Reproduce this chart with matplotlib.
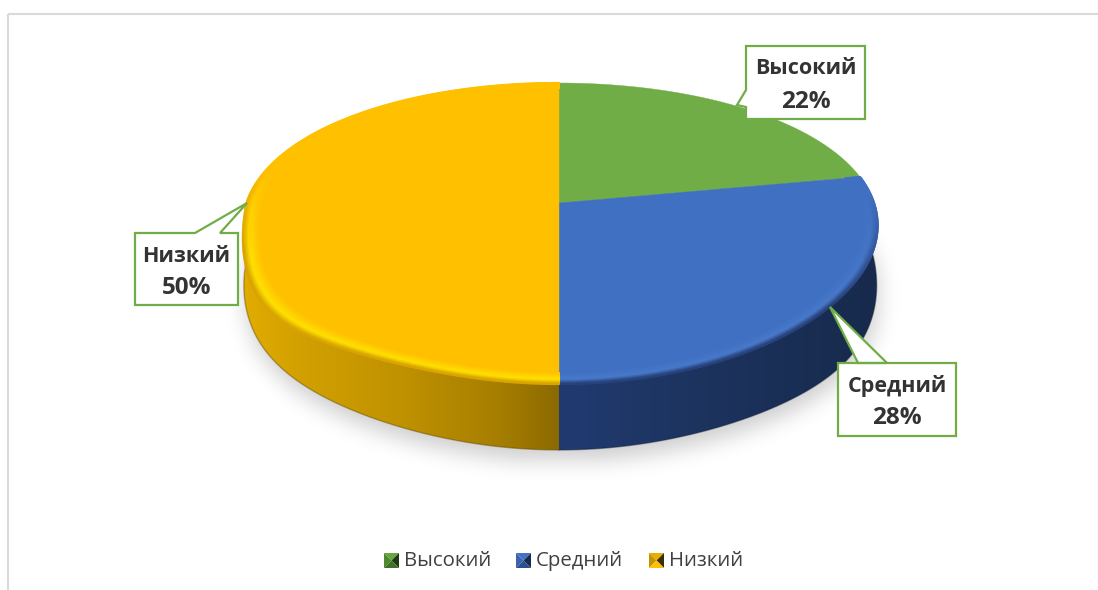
#!/usr/bin/env python3
"""Perspective 3D-style pie of level shares with callout labels."""

import numpy as np
import matplotlib
matplotlib.use("Agg")
import matplotlib.pyplot as plt
from matplotlib.collections import LineCollection
from matplotlib.colors import to_rgb
from matplotlib.patches import Polygon
from matplotlib.path import Path

plt.rcParams['font.family'] = ['Open Sans', 'Noto Sans', 'DejaVu Sans']

categories = ["Высокий", "Средний", "Низкий"]
values = [22, 28, 50]
top_colors = ["#70AD47", "#4070C2", "#FFC000"]

W, H = 1098, 590

# projection of the unit disc onto the page
CX, CY = 559, 203
RX_LEFT, RX_RIGHT, RY = 312.5, 315, 144.3
PERSP_X, PERSP_Y = 0.15, 0.2027
DEPTH = 52.6
SHRINK = 0.997
BULGE_TOP = 85
BULGE_BASE = 40


def project(theta, r=1.0):
    u, v = r * np.sin(theta), r * np.cos(theta)
    x = CX + np.where(u < 0, RX_LEFT, RX_RIGHT) * u / (1 + PERSP_X * v)
    y = CY - RY * v / (1 + PERSP_Y * v)
    # the bevel sags a little on the lower left of the rim
    y = y + BULGE_TOP * u ** 4 * np.clip(-v, 0, None) * (u < 0)
    return x, y


def project_base(theta):
    u, v = np.sin(theta), np.cos(theta)
    x = CX + np.where(u < 0, RX_LEFT, RX_RIGHT) * u / (1 + PERSP_X * v)
    y = CY - RY * v / (1 + PERSP_Y * v)
    y = y + DEPTH / (1 + PERSP_Y * v) + BULGE_BASE * u ** 4 * np.clip(-v, 0, None)
    return CX + (x - CX) * SHRINK, y


def blur(img, sigma):
    n = int(sigma * 3)
    k = np.exp(-0.5 * (np.arange(-n, n + 1) / sigma) ** 2)
    k /= k.sum()
    img = np.apply_along_axis(lambda c: np.convolve(c, k, mode='same'), 0, img)
    return np.apply_along_axis(lambda c: np.convolve(c, k, mode='same'), 1, img)


def mix(a, b, t):
    a, b = np.array(to_rgb(a)), np.array(to_rgb(b))
    return a + (b - a) * t


fig = plt.figure(figsize=(W / 100, H / 100), dpi=100, facecolor="white")
ax = fig.add_axes([0, 0, 1, 1])
ax.set_xlim(0, W)
ax.set_ylim(H, 0)
ax.axis("off")

# chart frame, only top and left edges are on the page
ax.plot([8, W], [14, 14], color="#D9D9D9", lw=1.5, zorder=1, solid_capstyle="butt")
ax.plot([8, 8], [14, H], color="#D9D9D9", lw=1.5, zorder=1, solid_capstyle="butt")

# soft shadow under the disc
full = np.linspace(0, 2 * np.pi, 400)
bx, by = project_base(full)
sil = Path(np.column_stack([bx + 1, by + 10]))
gx, gy = np.meshgrid(np.arange(0, W, 2), np.arange(0, H, 2))
mask = sil.contains_points(np.column_stack([gx.ravel(), gy.ravel()])).reshape(gx.shape)
soft = blur(mask.astype(float), 5.5)
shadow = np.zeros(gx.shape + (4,))
shadow[..., 3] = soft * 0.2
ax.imshow(shadow, extent=(0, W, H, 0), zorder=2, aspect="auto", interpolation="bilinear")
ax.set_xlim(0, W)
ax.set_ylim(H, 0)

# slice angles, clockwise from twelve o'clock
edges = np.concatenate([[0], np.cumsum(values)]) / np.sum(values) * 2 * np.pi

# side wall gradients by slice
wall_stops = {
    1: ([559, 650, 880], ["#213B72", "#1E3664", "#172A4C"]),
    2: ([240, 300, 400, 500, 559], ["#E2AC00", "#D2A000", "#C09200", "#A67E00", "#8C6A00"]),
}
for i, (xs, cols) in wall_stops.items():
    theta = np.linspace(edges[i], edges[i + 1], 300)
    tx, ty = project(theta)
    fx, fy = project_base(theta)
    poly = Polygon(np.column_stack([np.r_[tx, fx[::-1]], np.r_[ty, fy[::-1]]]),
                   closed=True, fc="none", ec="none", transform=ax.transData)
    ax.add_patch(poly)
    grid = np.linspace(xs[0], xs[-1], 256)
    rgb = np.stack([np.interp(grid, xs, [to_rgb(c)[ch] for c in cols]) for ch in range(3)], axis=-1)
    im = ax.imshow(rgb[None, ...], extent=(xs[0], xs[-1], 470, 150), zorder=3,
                   aspect="auto", interpolation="bilinear")
    im.set_clip_path(poly)
    # darker line where the wall meets the shadow
    ax.plot(fx, fy, color=mix(cols[-1], "#000000", 0.3), lw=1.0, alpha=0.45, zorder=3.2)
ax.set_xlim(0, W)
ax.set_ylim(H, 0)

# top faces with a bevel along the near rim
for i, col in enumerate(top_colors):
    theta = np.linspace(edges[i], edges[i + 1], 300)
    tx, ty = project(theta)
    face = Polygon(np.column_stack([np.r_[CX, tx], np.r_[CY, ty]]), closed=True,
                   fc=col, ec=col, lw=0.3, zorder=4)
    ax.add_patch(face)

    if i == 0:
        continue
    for r in np.linspace(0.95, 1.0, 14):
        t = (1 - r) / 0.05
        xr, yr = project(theta, r)
        pts = np.column_stack([xr, yr])
        segs = np.stack([pts[:-1], pts[1:]], axis=1)
        mid = 0.5 * (theta[:-1] + theta[1:])
        if i == 2:
            s = np.clip((4.95 - mid) / 0.45, 0, 1)
            if t < 0.35:
                tone = mix("#D9A400", "#FFE000", t / 0.35)
            else:
                tone = mix("#FFE000", col, (t - 0.35) / 0.65)
        else:
            s = np.clip((mid - 1.5) / 0.8, 0, 0.9)
            if t < 0.35:
                tone = mix("#253E74", "#4A7ACB", t / 0.35)
            else:
                tone = mix("#4A7ACB", col, (t - 0.35) / 0.65)
        base = np.array(to_rgb(col))
        seg_cols = base + (tone - base) * s[:, None]
        ax.add_collection(LineCollection(segs, colors=seg_cols, lw=1.6, zorder=4.2,
                                         capstyle="round"))

# callouts: box corners plus pointer tip
callouts = [
    (0, (746, 46, 865, 119), [(746, 107), (737, 105), (746, 90)]),
    (1, (838, 363, 956, 436), [(887, 363), (830, 307), (858, 363)]),
    (2, (135, 233, 238, 305), [(195, 233), (247, 203), (220, 233)]),
]
for i, (x0, y0, x1, y1), ptr in callouts:
    if ptr[0][1] == y0:
        verts = [(x0, y0), ptr[0], ptr[1], ptr[2], (x1, y0), (x1, y1), (x0, y1)]
    else:
        verts = [(x0, y0), (x1, y0), (x1, y1), (x0, y1), ptr[0], ptr[1], ptr[2]]
    ax.add_patch(Polygon(verts, closed=True, fc="white", ec="#70AD47", lw=1.6,
                         joinstyle="miter", zorder=6))
    cx = 0.5 * (x0 + x1)
    ax.text(cx, y0 + 23, categories[i], ha="center", va="center", fontsize=15.5,
            fontweight="bold", color="#333333", zorder=7)
    ax.text(cx, y0 + 55.5, f"{values[i]}%", ha="center", va="center", fontsize=17.5,
            fontweight="bold", color="#333333", zorder=7)

# legend with pyramid-shaded swatches
legend_x = [384, 516, 649]
swatch_tones = [
    ("#6BA543", "#4E8A30", "#1E3A14", "#3F7027"),
    ("#4472C4", "#3A64AE", "#172A4E", "#2B4E8E"),
    ("#E8AE00", "#C49300", "#3E2F00", "#FFC000"),
]
for i, x in enumerate(legend_x):
    y = 553
    s = 15
    top, left, right, bottom = swatch_tones[i]
    c = (x + s / 2, y + s / 2)
    ax.add_patch(Polygon([(x, y), (x + s, y), c], fc=top, ec="none", zorder=5))
    ax.add_patch(Polygon([(x, y), (x, y + s), c], fc=left, ec="none", zorder=5))
    ax.add_patch(Polygon([(x + s, y), (x + s, y + s), c], fc=right, ec="none", zorder=5))
    ax.add_patch(Polygon([(x, y + s), (x + s, y + s), c], fc=bottom, ec="none", zorder=5))
    ax.text(x + 20, y + 8, categories[i], ha="left", va="center", fontsize=14.7,
            color="#404040", zorder=5)

fig.savefig("out.png", dpi=100, facecolor="white")
